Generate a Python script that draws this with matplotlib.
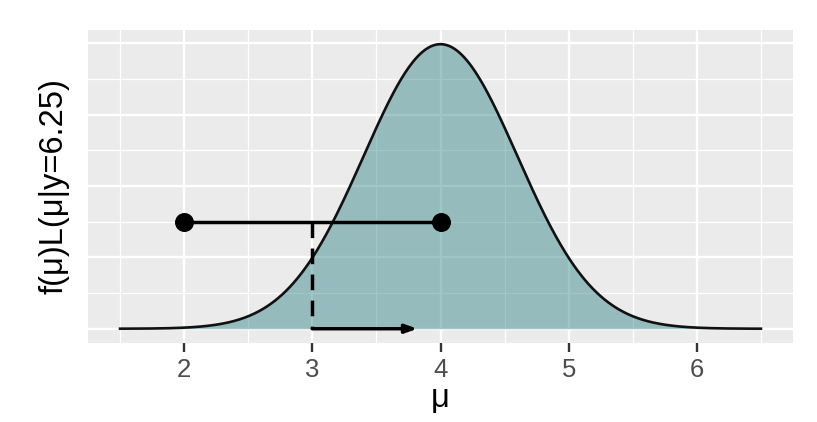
import numpy as np
import matplotlib.pyplot as plt
from matplotlib.ticker import MultipleLocator

plt.rcParams['font.family'] = ['Liberation Sans', 'DejaVu Sans']

# posterior-like normal curve drawn over [1.5, 6.5]
mu_mean, mu_sd = 4.0, 0.6
x_from, x_to = 1.5, 6.5

# interval segment with end points, and the marked value
seg_x = [2, 4]
seg_y = [0.25, 0.25]
mark_x = 3
arrow_end = 3.82

x_ticks = [2, 3, 4, 5, 6]

xs = np.linspace(x_from, x_to, 500)
dens = np.exp(-0.5 * ((xs - mu_mean) / mu_sd) ** 2) / (mu_sd * np.sqrt(2 * np.pi))

fig = plt.figure(figsize=(8.17, 4.22), dpi=100)
ax = fig.add_axes([88 / 817, 1 - 343 / 422, (793 - 88) / 817, (343 - 30) / 422])
ax.set_facecolor('#EBEBEB')
for s in ax.spines.values():
    s.set_visible(False)

ax.set_xlim(1.25, 6.75)
ax.set_ylim(-0.0333, 0.698)
ax.set_xticks(x_ticks)
ax.xaxis.set_minor_locator(MultipleLocator(0.5))
ax.yaxis.set_major_locator(MultipleLocator(1 / 6))
ax.yaxis.set_minor_locator(MultipleLocator(1 / 12))
ax.grid(which='major', color='white', lw=1.7)
ax.grid(which='minor', color='white', lw=0.9)
ax.set_axisbelow(True)
ax.tick_params(axis='y', which='both', left=False, labelleft=False)
ax.tick_params(axis='x', which='major', length=6.5, width=1.7, color='#333333',
               labelsize=18.5, labelcolor='#4D4D4D', pad=4)
ax.tick_params(axis='x', which='minor', length=0)

ax.fill_between(xs, 0, dens, color='#2d8284', alpha=0.45, lw=0, zorder=2)
ax.plot(xs, dens, color='#111111', lw=1.9, zorder=3)

ax.plot(seg_x, seg_y, color='black', lw=2.5, zorder=4)
ax.scatter(seg_x, seg_y, s=160, color='black', zorder=5)
ax.plot([mark_x, mark_x], [seg_y[0], 0], color='black', lw=2.5, ls=(0, (4.5, 3)), zorder=4)
ax.annotate('', xy=(arrow_end, 0), xytext=(mark_x, 0),
            arrowprops=dict(arrowstyle='-|>,head_length=0.7,head_width=0.25',
                            color='black', lw=2.5, shrinkA=0, shrinkB=0), zorder=4)

ax.set_xlabel('μ', fontsize=23.5, labelpad=1)
ax.set_ylabel('f(μ)L(μ|y=6.25)', fontsize=23.5, labelpad=13)

fig.savefig('out.png', dpi=100)
